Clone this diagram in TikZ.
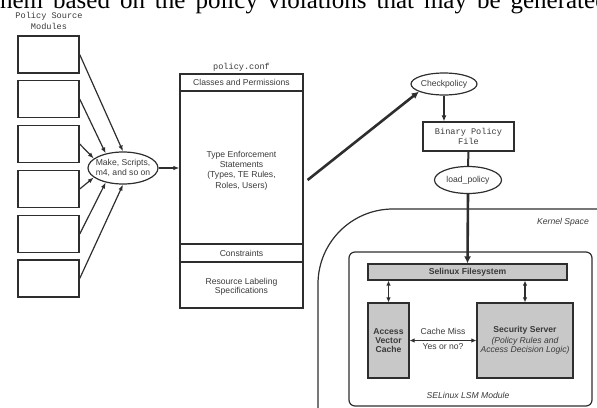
\documentclass[tikz,border=0pt]{standalone}
\usepackage{fontspec}
\setmainfont{Liberation Sans}
\newfontfamily\serifface{Liberation Serif}
\newfontfamily\monoface{Liberation Mono}
\usetikzlibrary{arrows.meta,shapes.geometric,calc}
\definecolor{ln}{HTML}{2E2E2E}
\definecolor{txt}{HTML}{3A3A3A}
\definecolor{fillg}{HTML}{C8C8C8}
\newcommand\dsz{\fontsize{8.6}{10.3}\selectfont}
\newcommand\dszt{\fontsize{8.6}{9.2}\selectfont}
\tikzset{
  every node/.style={inner sep=0pt, text=txt, font=\dsz},
  modbox/.style={draw=ln, line width=1.4pt, minimum width=61, minimum height=37},
  fanarrow/.style={draw=ln, line width=1.2pt, -{Latex[length=6pt,width=4.5pt]}},
  dblarrow/.style={draw=ln, line width=1.2pt, {Latex[length=5pt,width=4.5pt]}-{Latex[length=5pt,width=4.5pt]}},
  thickarrow/.style={draw=ln, line width=2.6pt, -{Latex[length=7pt,width=7pt]}},
  plain/.style={draw=ln, line width=1.2pt},
  grayfill/.style={draw=ln, line width=1.2pt, fill=fillg},
}
\begin{document}
\begin{tikzpicture}[x=1pt,y=-1pt]
\useasboundingbox (0,0) rectangle (597,407);
\clip (0,0) rectangle (597,407);
% clipped running text at the top
\node[anchor=base west, font=\serifface\fontsize{25}{25}\selectfont, text=black] (toptext) at (-7,8.5)
  {\makebox[602pt][s]{them based on the policy violations that may be generate}d};
% policy source modules
\node[font=\monoface\dsz, align=center] (srclabel) at (49,21) {Policy Source\\Modules};
\node[modbox] (m1) at (48.5,54.5) {};
\node[modbox] (m2) at (48.5,99) {};
\node[modbox] (m3) at (48.5,144) {};
\node[modbox] (m4) at (48.5,189) {};
\node[modbox] (m5) at (48.5,234) {};
\node[modbox] (m6) at (48.5,278.5) {};
% make ellipse
\node[ellipse, plain, minimum width=70, minimum height=32] (mk) at (123,168) {};
\node[align=center, font=\dszt] (mktext) at (mk.center) {Make, Scripts,\\m4, and so on};
\draw[fanarrow] (m1.east) -- (mk.north);
\draw[fanarrow] (m2.east) -- (mk.140);
\draw[fanarrow] (m3.east) -- (mk.162);
\draw[fanarrow] (m4.east) -- (mk.198);
\draw[fanarrow] (m5.east) -- (mk.220);
\draw[fanarrow] (m6.east) -- (mk.south);
% policy.conf
\node[plain, minimum width=123, minimum height=234] (pc) at (241.5,191) {};
\node[font=\monoface\dsz, anchor=base] (pclabel) at (241.5,69) {policy.conf};
\draw[fanarrow] (mk.east) -- (mk.east -| pc.west);
\coordinate (d1l) at (180,91); \coordinate (d1r) at (303,91);
\coordinate (d2l) at (180,244); \coordinate (d2r) at (303,244);
\coordinate (d3l) at (180,262); \coordinate (d3r) at (303,262);
\draw[plain] (d1l) -- (d1r);
\draw[plain] (d2l) -- (d2r);
\draw[plain] (d3l) -- (d3r);
\node (classes) at (241.5,82.5) {Classes and Permissions};
\node[align=center] (te) at (241.5,170.5) {Type Enforcement\\Statements\\(Types, TE Rules,\\Roles, Users)};
\node (constr) at (241.5,253) {Constraints};
\node[align=center, font=\dszt] (reslab) at (241.5,286.5) {Resource Labeling\\Specifications};
% checkpolicy chain
\node[ellipse, plain, minimum width=66, minimum height=22] (cp) at (444,84) {Checkpolicy};
\node[plain, minimum width=91, minimum height=29, align=center, font=\monoface\dszt] (bp) at (468.5,136.5) {Binary Policy\\File};
\node[ellipse, plain, minimum width=67, minimum height=27] (lp) at (468,180) {load\_policy};
\draw[thickarrow] ([shift={(4,-11)}]pc.east) -- (cp.197);
\draw[draw=ln, line width=1.8pt, -{Latex[length=6pt,width=5pt]}] (cp.south) -- (cp.south |- bp.north);
\draw[draw=ln, line width=2pt] (bp.south) -- (lp.north);
% kernel space
\draw[plain, rounded corners=75] (610,209) -- (318,209) -- (318,420);
\node[anchor=east, font=\itshape\dsz] (kslabel) at (589,222) {Kernel Space};
% SELinux LSM module
\node[plain, rounded corners=6, minimum width=243, minimum height=154] (lsm) at (470.5,329) {};
\node[font=\itshape\dsz] (lsmlabel) at (468,395) {SELinux LSM Module};
\node[grayfill, minimum width=199, minimum height=16, font=\bfseries\dsz] (fs) at (467.5,272) {Selinux Filesystem};
\draw[thickarrow] (lp.south) -- (fs.north);
\node[grayfill, minimum width=41, minimum height=75, align=center, font=\bfseries\dszt] (avc) at (388.5,340.5) {Access\\Vector\\Cache};
\node[grayfill, minimum width=96, minimum height=75, align=center, font=\dszt] (ss) at (525,340.5)
  {{\bfseries Security Server}\\[2pt]{\itshape (Policy Rules and}\\{\itshape Access Decision Logic)}};
\draw[dblarrow] (avc.north) -- (avc.north |- fs.south);
\draw[dblarrow] (ss.north) -- (ss.north |- fs.south);
\draw[dblarrow] (avc.east) -- (ss.west);
\node (miss) at (443,331) {Cache Miss};
\node (yesno) at (443,347) {Yes or no?};
\end{tikzpicture}
\end{document}
